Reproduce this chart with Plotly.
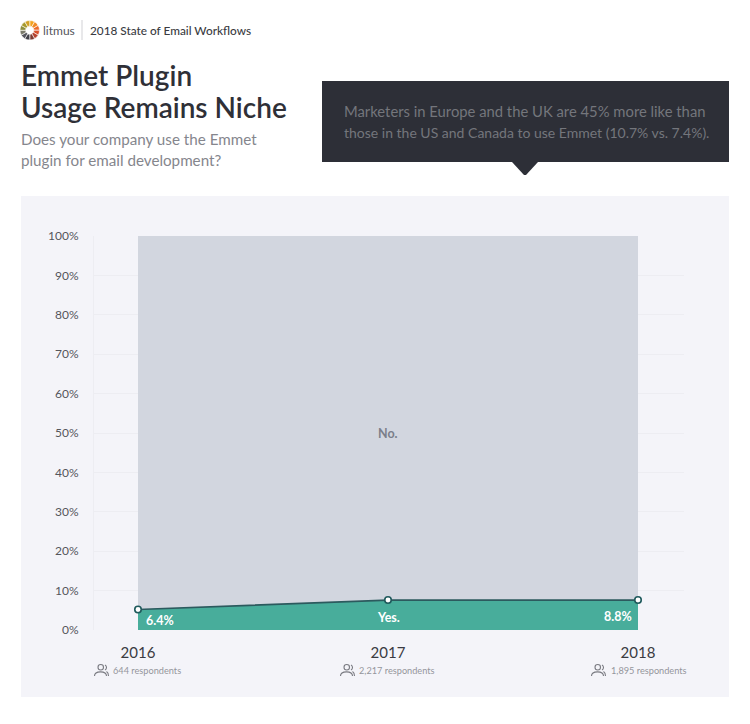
import plotly.graph_objects as go

W, H = 750, 724
FONT = "Lato"

years = [2016, 2017, 2018]
yes_line = [5.2, 7.6, 7.6]
no_top = [100, 100, 100]
respondents = ["644 respondents", "2,217 respondents", "1,895 respondents"]
y_ticks = [0, 10, 20, 30, 40, 50, 60, 70, 80, 90, 100]
y_tick_labels = ["0%", "10%", "20%", "30%", "40%", "50%", "60%", "70%", "80%", "90%", "100%"]
logo_colors = ["#f2a31f", "#f08a24", "#ec6a2a", "#d9502b", "#b5412e", "#7c3a33",
               "#3f3f47", "#55565d", "#7a7a6a", "#8d8f3e", "#a79a2c", "#d2a125"]
logo_sizes = [1] * 12


def px(x):
    return x / W


def py(y):
    return 1 - y / H


fig = go.Figure()

# logo
fig.add_trace(go.Pie(values=logo_sizes, marker=dict(colors=logo_colors, line=dict(color="white", width=0.6)),
                     hole=0.42, sort=False, direction="clockwise", rotation=0, textinfo="none", hoverinfo="skip",
                     showlegend=False, domain=dict(x=[px(20), px(39.5)], y=[py(40), py(20.5)])))

fig.add_trace(go.Scatter(x=years, y=no_top, mode="lines", fill="tozeroy", fillcolor="#d2d6df",
                         line=dict(width=0), showlegend=False, hoverinfo="skip"))
fig.add_trace(go.Scatter(x=years, y=yes_line, mode="lines+markers", fill="tozeroy", fillcolor="#48ad9b",
                         line=dict(color="#2c5a5e", width=1.7),
                         marker=dict(size=6.5, color="white", line=dict(color="#1f5a5c", width=1.6)),
                         showlegend=False, hoverinfo="skip", cliponaxis=False))

shapes = [
    dict(type="rect", xref="paper", yref="paper", x0=px(21), x1=px(729), y0=py(697), y1=py(196),
         fillcolor="#f4f4f9", line_width=0, layer="below"),
    dict(type="rect", xref="paper", yref="paper", x0=px(322), x1=px(729), y0=py(162), y1=py(81),
         fillcolor="#2d2f37", line_width=0, layer="below"),
    dict(type="path", xref="paper", yref="paper",
         path=f"M {px(512)} {py(162)} L {px(524)} {py(175)} L {px(526)} {py(175)} L {px(538)} {py(162)} Z",
         fillcolor="#2d2f37", line_width=0, layer="below"),
    dict(type="line", xref="paper", yref="paper", x0=px(82), x1=px(82), y0=py(40), y1=py(20),
         line=dict(color="#d9d9dc", width=1.2)),
]

ICON = dict(color="#7a7b82", width=1.1)


def person_icon(cx, cy):
    """small two-person outline icon, centred on a pixel position"""
    out = []
    out.append(dict(type="circle", xref="paper", yref="paper", x0=px(cx - 3.5), x1=px(cx + 2),
                    y0=py(cy + 0), y1=py(cy - 5.5), line=ICON))
    out.append(dict(type="path", xref="paper", yref="paper",
                    path=f"M {px(cx-7)} {py(cy+6)} C {px(cx-7)} {py(cy+0.5)} {px(cx+5)} {py(cy+0.5)} {px(cx+5)} {py(cy+6)}",
                    line=ICON))
    out.append(dict(type="path", xref="paper", yref="paper",
                    path=f"M {px(cx+3.5)} {py(cy-5)} C {px(cx+5.5)} {py(cy-4)} {px(cx+5.5)} {py(cy-1)} {px(cx+3.5)} {py(cy)}",
                    line=ICON))
    out.append(dict(type="path", xref="paper", yref="paper",
                    path=f"M {px(cx+5)} {py(cy+1.5)} C {px(cx+6.5)} {py(cy+2.5)} {px(cx+7)} {py(cy+4)} {px(cx+7)} {py(cy+6)}",
                    line=ICON))
    return out


for cx in (101.5, 347.5, 598.5):
    shapes += person_icon(cx, 670)


def label(x, y, text, size, color, weight=400, anchor="left"):
    return dict(xref="paper", yref="paper", x=px(x), y=py(y), text=text, showarrow=False, xanchor=anchor,
                yanchor="middle", xshift=-2, align=anchor,
                font=dict(family=FONT, size=size, color=color, weight=weight))


annotations = [
    label(43, 30.5, "litmus", 12, "#55565c"),
    label(90, 30.5, "2018 State of Email Workflows", 11.8, "#3a3b42", 500),
    label(21, 75, "Emmet Plugin", 28, "#2f3037", 600),
    label(21, 107, "Usage Remains Niche", 28, "#2f3037", 600),
    label(21, 139, "Does your company use the Emmet", 15.2, "#85868d"),
    label(21, 160, "plugin for email development?", 15.2, "#85868d"),
    label(344, 111, "Marketers in Europe and the UK are 45% more like than", 14.8, "#74767c"),
    label(344, 132.5, "those in the US and Canada to use Emmet (10.7% vs. 7.4%).", 14, "#74767c"),
    dict(x=2016, y=2.4, xref="x", yref="y", text="6.4%", showarrow=False, xanchor="left", xshift=6,
         font=dict(family=FONT, size=12.5, color="white", weight=700)),
    dict(x=2017, y=3.2, xref="x", yref="y", text="Yes.", showarrow=False,
         font=dict(family=FONT, size=12.5, color="white", weight=700)),
    dict(x=2018, y=3.5, xref="x", yref="y", text="8.8%", showarrow=False, xanchor="right", xshift=-4,
         font=dict(family=FONT, size=12.5, color="white", weight=700)),
    dict(x=2017, y=50, xref="x", yref="y", text="No.", showarrow=False,
         font=dict(family=FONT, size=12.5, color="#7b7f8a", weight=700)),
]
for x_px, text in zip((113, 359, 611), respondents):
    annotations.append(label(x_px, 670, text, 9.2, "#95969c"))

fig.update_layout(
    width=W, height=H, margin=dict(l=0, r=0, t=0, b=0, autoexpand=False), autosize=False,
    paper_bgcolor="white", plot_bgcolor="rgba(0,0,0,0)",
    font=dict(family=FONT), showlegend=False, shapes=shapes, annotations=annotations,
    xaxis=dict(domain=[px(94), px(684)], range=[2016 - 44 / 250, 2018 + 46 / 250], tickmode="array",
               tickvals=years, ticktext=[str(y) for y in years], showgrid=False, zeroline=False,
               ticks="", ticklabelstandoff=12, tickfont=dict(family=FONT, size=15, color="#3a3b42")),
    yaxis=dict(domain=[py(630), py(236)], range=[0, 100], tickmode="array", tickvals=y_ticks,
               ticktext=y_tick_labels, showgrid=True, gridcolor="#ededf2", gridwidth=1, zeroline=False,
               showline=True, linecolor="#ededf2", ticks="", ticklabelstandoff=12,
               tickfont=dict(family=FONT, size=12, color="#55565c")),
)

fig.write_html("out.html", config=dict(displayModeBar=False), post_script="document.body.style.margin='0';")
